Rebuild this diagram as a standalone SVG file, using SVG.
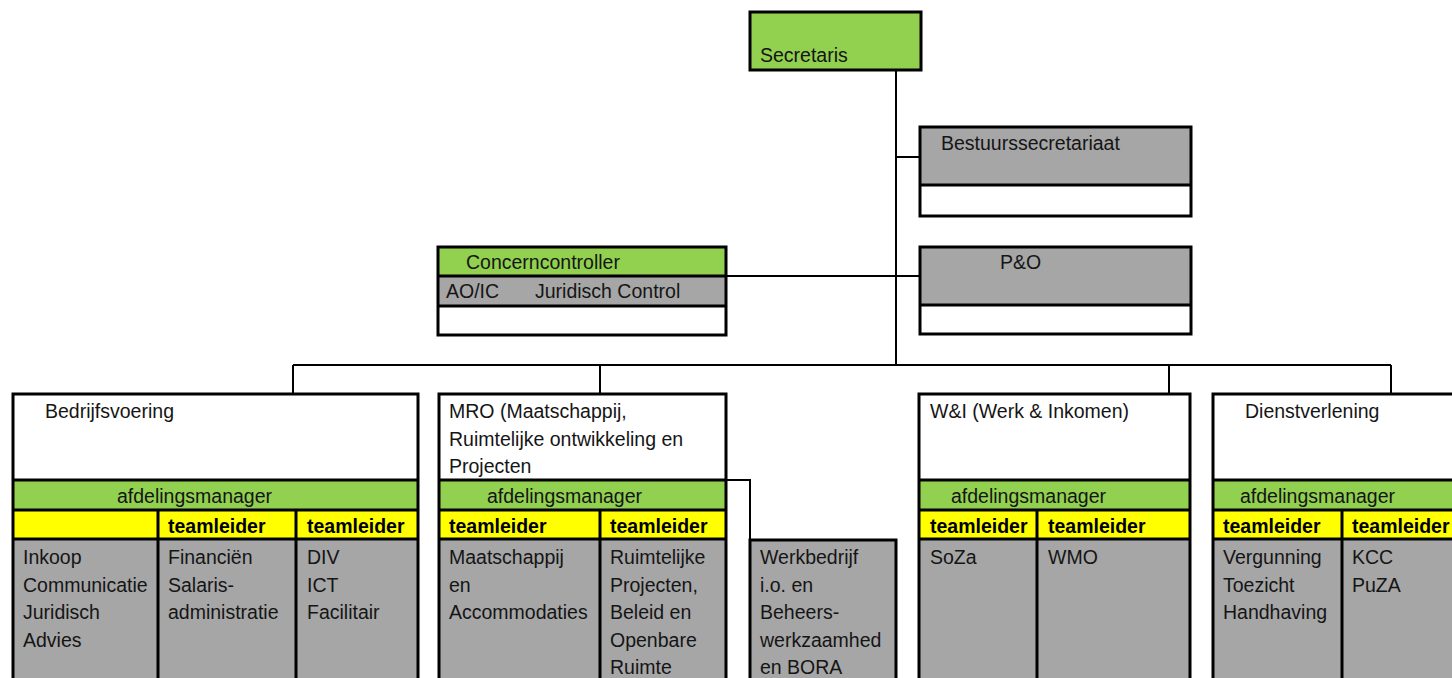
<svg xmlns="http://www.w3.org/2000/svg" width="1452" height="678" viewBox="0 0 1452 678">
<style>
text{font-family:"Liberation Sans",Arial,sans-serif;font-size:19.5px;fill:#151515}
.b{font-weight:bold;fill:#000}
.g{fill:#92D050}
.y{fill:#FFFF00}
.gr{fill:#A6A6A6}
.w{fill:#FFFFFF}
.o{fill:none;stroke:#000;stroke-width:3}
.d{stroke:#000;stroke-width:3}
.c{fill:none;stroke:#000;stroke-width:2}
</style>
<rect width="1452" height="678" fill="#fff"/>
<g id="connectors">
<path class="c" d="M896 70V365M896 157H920M726 276H920M293 365H1391M293 365V394M600 365V394M1169 365V394M1391 365V394M726 480H750V540"/>
</g>
<g id="secretaris">
<rect class="g" x="750" y="12" width="171" height="58"/>
<rect class="o" x="750" y="12" width="171" height="58"/>
<text x="760" y="62">Secretaris</text>
</g>
<g id="bestuurssecretariaat">
<rect class="gr" x="920" y="127" width="271" height="58"/>
<rect class="w" x="920" y="185" width="271" height="31"/>
<rect class="o" x="920" y="127" width="271" height="89"/>
<line class="d" x1="920" y1="185" x2="1191" y2="185"/>
<text x="941" y="150">Bestuurssecretariaat</text>
</g>
<g id="concerncontroller">
<rect class="g" x="438" y="247" width="288" height="29"/>
<rect class="gr" x="438" y="276" width="288" height="30"/>
<rect class="o" x="438" y="247" width="288" height="88"/>
<line class="d" x1="438" y1="276" x2="726" y2="276"/>
<line class="d" x1="438" y1="306" x2="726" y2="306"/>
<text x="466" y="269">Concerncontroller</text>
<text x="446" y="298">AO/IC</text>
<text x="535" y="298">Juridisch Control</text>
</g>
<g id="p-en-o">
<rect class="gr" x="920" y="247" width="271" height="58"/>
<rect class="o" x="920" y="247" width="271" height="87"/>
<line class="d" x1="920" y1="305" x2="1191" y2="305"/>
<text x="1000" y="269">P&amp;O</text>
</g>
<g id="bedrijfsvoering">
<rect class="g" x="13" y="480" width="405" height="30"/>
<rect class="y" x="13" y="510" width="405" height="29"/>
<rect class="gr" x="13" y="539" width="405" height="145"/>
<rect class="o" x="13" y="394" width="405" height="290"/>
<path class="d" d="M13 480H418M13 510H418M13 539H418M158 510V684M296 510V684"/>
<text x="45" y="418">Bedrijfsvoering</text>
<text x="117" y="503">afdelingsmanager</text>
<text class="b" x="168" y="533">teamleider</text>
<text class="b" x="307" y="533">teamleider</text>
<text x="23" y="564">Inkoop</text>
<text x="23" y="591.5">Communicatie</text>
<text x="23" y="619">Juridisch</text>
<text x="23" y="646.5">Advies</text>
<text x="168" y="564">Financiën</text>
<text x="168" y="591.5">Salaris-</text>
<text x="168" y="619">administratie</text>
<text x="307" y="564">DIV</text>
<text x="307" y="591.5">ICT</text>
<text x="307" y="619">Facilitair</text>
</g>
<g id="mro">
<rect class="g" x="439" y="480" width="287" height="30"/>
<rect class="y" x="439" y="510" width="287" height="29"/>
<rect class="gr" x="439" y="539" width="287" height="145"/>
<rect class="o" x="439" y="394" width="287" height="290"/>
<path class="d" d="M439 480H726M439 510H726M439 539H726M600 510V684"/>
<text x="449" y="418">MRO (Maatschappij,</text>
<text x="449" y="445.5">Ruimtelijke ontwikkeling en</text>
<text x="449" y="473">Projecten</text>
<text x="487" y="503">afdelingsmanager</text>
<text class="b" x="449" y="533">teamleider</text>
<text class="b" x="610" y="533">teamleider</text>
<text x="449" y="564">Maatschappij</text>
<text x="449" y="591.5">en</text>
<text x="449" y="619">Accommodaties</text>
<text x="610" y="564">Ruimtelijke</text>
<text x="610" y="591.5">Projecten,</text>
<text x="610" y="619">Beleid en</text>
<text x="610" y="646.5">Openbare</text>
<text x="610" y="674">Ruimte</text>
</g>
<g id="werkbedrijf">
<rect class="gr" x="750" y="540" width="146" height="144"/>
<rect class="o" x="750" y="540" width="146" height="144"/>
<text x="760" y="564">Werkbedrijf</text>
<text x="760" y="591.5">i.o. en</text>
<text x="760" y="619">Beheers-</text>
<text x="760" y="646.5">werkzaamhed</text>
<text x="760" y="674">en BORA</text>
</g>
<g id="werk-en-inkomen">
<rect class="g" x="919" y="480" width="271" height="30"/>
<rect class="y" x="919" y="510" width="271" height="29"/>
<rect class="gr" x="919" y="539" width="271" height="145"/>
<rect class="o" x="919" y="394" width="271" height="290"/>
<path class="d" d="M919 480H1190M919 510H1190M919 539H1190M1037 510V684"/>
<text x="930" y="418">W&amp;I (Werk &amp; Inkomen)</text>
<text x="951" y="503">afdelingsmanager</text>
<text class="b" x="930" y="533">teamleider</text>
<text class="b" x="1048" y="533">teamleider</text>
<text x="930" y="564">SoZa</text>
<text x="1048" y="564">WMO</text>
</g>
<g id="dienstverlening">
<rect class="g" x="1213" y="480" width="250" height="30"/>
<rect class="y" x="1213" y="510" width="250" height="29"/>
<rect class="gr" x="1213" y="539" width="250" height="145"/>
<rect class="o" x="1213" y="394" width="250" height="290"/>
<path class="d" d="M1213 480H1463M1213 510H1463M1213 539H1463M1342 510V684"/>
<text x="1245" y="418">Dienstverlening</text>
<text x="1240" y="503">afdelingsmanager</text>
<text class="b" x="1223" y="533">teamleider</text>
<text class="b" x="1352" y="533">teamleider</text>
<text x="1223" y="564">Vergunning</text>
<text x="1223" y="591.5">Toezicht</text>
<text x="1223" y="619">Handhaving</text>
<text x="1352" y="564">KCC</text>
<text x="1352" y="591.5">PuZA</text>
</g>
</svg>
